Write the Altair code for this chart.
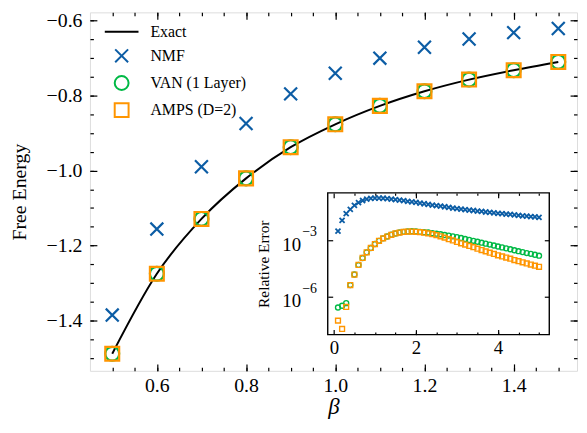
import altair as alt
import pandas as pd

# ---------------- data ----------------
beta_main = [0.5, 0.6, 0.7, 0.8, 0.9, 1.0, 1.1, 1.2, 1.3, 1.4, 1.5]
exact_F = [-1.488, -1.275, -1.129, -1.021, -0.938, -0.877, -0.828, -0.789, -0.758, -0.733, -0.711]
nmf_F = [-1.385, -1.156, -0.990, -0.875, -0.796, -0.741, -0.701, -0.672, -0.650, -0.633, -0.622]
van_F = [-1.488, -1.275, -1.129, -1.021, -0.938, -0.877, -0.828, -0.789, -0.758, -0.733, -0.711]
amps_F = [-1.488, -1.275, -1.129, -1.021, -0.938, -0.877, -0.828, -0.789, -0.758, -0.733, -0.711]

beta_inset = [0.1, 0.2, 0.3, 0.4, 0.5, 0.6, 0.7, 0.8, 0.9, 1.0,
              1.1, 1.2, 1.3, 1.4, 1.5, 1.6, 1.7, 1.8, 1.9, 2.0,
              2.1, 2.2, 2.3, 2.4, 2.5, 2.6, 2.7, 2.8, 2.9, 3.0,
              3.1, 3.2, 3.3, 3.4, 3.5, 3.6, 3.7, 3.8, 3.9, 4.0,
              4.1, 4.2, 4.3, 4.4, 4.5, 4.6, 4.7, 4.8, 4.9, 5.0]
nmf_err = [3.16e-3, 1.17e-2, 2.63e-2, 4.47e-2, 7.24e-2, 0.102, 0.132, 0.155, 0.170, 0.178,
           0.178, 0.174, 0.166, 0.158, 0.148, 0.138, 0.129, 0.120, 0.112, 0.105,
           0.0966, 0.0891, 0.0822, 0.0759, 0.0708, 0.0661, 0.0617, 0.0575, 0.0525, 0.0490,
           0.0457, 0.0437, 0.0407, 0.0389, 0.0363, 0.0347, 0.0324, 0.0309, 0.0288, 0.0275,
           0.0263, 0.0251, 0.0240, 0.0229, 0.0214, 0.0204, 0.0195, 0.0186, 0.0178, 0.0170]
van_err = [2.75e-7, 3.39e-7, 4.68e-7, 4.27e-6, 1.55e-5, 5.01e-5, 1.17e-4, 2.34e-4, 3.98e-4, 6.46e-4,
           9.55e-4, 1.29e-3, 1.62e-3, 2.00e-3, 2.34e-3, 2.66e-3, 2.88e-3, 3.02e-3, 3.09e-3, 3.02e-3,
           2.88e-3, 2.75e-3, 2.63e-3, 2.45e-3, 2.29e-3, 2.14e-3, 1.95e-3, 1.82e-3, 1.66e-3, 1.51e-3,
           1.35e-3, 1.20e-3, 1.07e-3, 9.55e-4, 8.51e-4, 7.59e-4, 6.76e-4, 6.03e-4, 5.37e-4, 4.79e-4,
           4.27e-4, 3.80e-4, 3.39e-4, 3.02e-4, 2.69e-4, 2.40e-4, 2.14e-4, 1.95e-4, 1.74e-4, 1.55e-4]
amps_err = [5.50e-8, 2.00e-8, 2.95e-7, 4.27e-6, 1.55e-5, 5.01e-5, 1.17e-4, 2.34e-4, 3.98e-4, 6.46e-4,
            9.55e-4, 1.29e-3, 1.62e-3, 2.00e-3, 2.34e-3, 2.63e-3, 2.82e-3, 2.95e-3, 2.95e-3, 2.88e-3,
            2.75e-3, 2.57e-3, 2.34e-3, 2.14e-3, 1.91e-3, 1.66e-3, 1.41e-3, 1.17e-3, 1.00e-3, 8.32e-4,
            7.08e-4, 6.03e-4, 5.13e-4, 4.37e-4, 3.63e-4, 3.09e-4, 2.63e-4, 2.24e-4, 1.91e-4, 1.62e-4,
            1.41e-4, 1.23e-4, 1.07e-4, 9.12e-5, 7.94e-5, 6.92e-5, 6.03e-5, 5.25e-5, 4.57e-5, 3.98e-5]

series_names = ["Exact", "NMF", "VAN (1 Layer)", "AMPS (D=2)"]
series_colors = ["#000000", "#0C5DA5", "#00B945", "#FF9500"]

main_x_major = [0.6, 0.8, 1.0, 1.2, 1.4]
main_x_minor = [0.5, 0.55, 0.6, 0.65, 0.7, 0.75, 0.8, 0.85, 0.9, 0.95, 1.0,
                1.05, 1.1, 1.15, 1.2, 1.25, 1.3, 1.35, 1.4, 1.45, 1.5]
main_y_major = [-1.4, -1.2, -1.0, -0.8, -0.6]
main_y_minor = [-1.5, -1.45, -1.4, -1.35, -1.3, -1.25, -1.2, -1.15, -1.1, -1.05, -1.0,
                -0.95, -0.9, -0.85, -0.8, -0.75, -0.7, -0.65, -0.6]
inset_x_major = [0, 2, 4]
inset_x_minor = [0.5, 1.0, 1.5, 2.0, 2.5, 3.0, 3.5, 4.0, 4.5, 5.0]
inset_y_major = [1e-3, 1e-6]
inset_exponents = ["\u22123", "\u22126"]

# ---------------- layout / style ----------------
FONT = "Liberation Serif"
W, H = 491.6, 361.8
X_DOM = [0.45, 1.542]
Y_DOM = [-1.5335, -0.579]
IN_L, IN_R, IN_T, IN_B = 240.0, 463.6, 182.2, 325.2
IN_X_DOM = [-0.15, 5.25]
IN_Y_DOM = [1e-8, 0.3357]

X_PATH = "M-0.93,-0.93L0.93,0.93M-0.93,0.93L0.93,-0.93"
LINE_PATH = "M-2.43,0L2.43,0"
series_shapes = [LINE_PATH, X_PATH, "circle", "square"]

df_exact = pd.DataFrame({"beta": beta_main, "F": exact_F})
df_pts = pd.concat([
    pd.DataFrame({"beta": beta_main, "F": nmf_F, "series": "NMF"}),
    pd.DataFrame({"beta": beta_main, "F": van_F, "series": "VAN (1 Layer)"}),
    pd.DataFrame({"beta": beta_main, "F": amps_F, "series": "AMPS (D=2)"}),
], ignore_index=True)

df_in = pd.DataFrame({"beta": beta_inset, "nmf": nmf_err, "van": van_err, "amps": amps_err})
df_frame = pd.DataFrame({"x0": [IN_X_DOM[0]], "x1": [IN_X_DOM[1]],
                         "y0": [IN_Y_DOM[0]], "y1": [IN_Y_DOM[1]]})
df_exp = pd.DataFrame({"v": inset_y_major, "t": inset_exponents})

xs = alt.Scale(domain=X_DOM, nice=False, zero=False)
ys = alt.Scale(domain=Y_DOM, nice=False, zero=False)
xs_in = alt.Scale(domain=IN_X_DOM, range=[IN_L, IN_R], nice=False, zero=False)
ys_in = alt.Scale(type="log", domain=IN_Y_DOM, range=[IN_B, IN_T], nice=False)


def tick_axis(orient, offset, values, size):
    return alt.Axis(orient=orient, offset=offset, values=values, labels=False,
                    ticks=True, tickSize=size, tickWidth=1.2, tickColor="black",
                    domain=False, grid=False, title=None, zindex=3)


# ---------------- main panel ----------------
exact_line = alt.Chart(df_exact).mark_line(
    color="black", strokeWidth=2, interpolate="monotone"
).encode(
    x=alt.X("beta:Q", scale=xs, axis=alt.Axis(
        orient="bottom", values=main_x_major, format=".1f", ticks=False, tickSize=0,
        domain=False, grid=False, labelPadding=5, labelFontSize=20, labelFont=FONT,
        labelColor="black", title="β", titleFont=FONT, titleFontSize=23,
        titleFontStyle="italic", titleFontWeight="normal", titleColor="black",
        titlePadding=0)),
    y=alt.Y("F:Q", scale=ys, axis=alt.Axis(
        orient="left", values=main_y_major, format=".1f", ticks=False, tickSize=0,
        domain=False, grid=False, labelPadding=8, labelFontSize=20, labelFont=FONT,
        labelColor="black", title="Free Energy", titleFont=FONT, titleFontSize=20,
        titleFontWeight="normal", titleColor="black", titlePadding=17)),
)

legend = alt.Legend(orient="none", legendX=24, legendY=11.5, title=None,
                    labelFont=FONT, labelFontSize=16, labelColor="black",
                    symbolSize=196, symbolStrokeWidth=2, labelOffset=21,
                    rowPadding=5.4, padding=0, symbolOpacity=1)

points = alt.Chart(df_pts).mark_point(filled=False, size=196, strokeWidth=2.2, opacity=1).encode(
    x=alt.X("beta:Q", scale=xs, axis=None),
    y=alt.Y("F:Q", scale=ys, axis=None),
    color=alt.Color("series:N", scale=alt.Scale(domain=series_names, range=series_colors),
                    legend=legend),
    shape=alt.Shape("series:N", scale=alt.Scale(domain=series_names, range=series_shapes),
                    legend=legend),
)


def main_ticks(xorient, yorient, xvals, yvals, size):
    return alt.Chart(df_exact).mark_point(opacity=0).encode(
        x=alt.X("beta:Q", scale=xs, axis=tick_axis(xorient, -H, xvals, size)),
        y=alt.Y("F:Q", scale=ys, axis=tick_axis(yorient, -W, yvals, size)),
    )


main = alt.layer(
    exact_line,
    points,
    main_ticks("top", "right", main_x_major, main_y_major, 7),
    main_ticks("top", "right", main_x_minor, main_y_minor, 3.5),
    main_ticks("bottom", "left", main_x_major, main_y_major, 7),
    main_ticks("bottom", "left", main_x_minor, main_y_minor, 3.5),
).resolve_axis(x="independent", y="independent")

# ---------------- inset ----------------
frame = alt.Chart(df_frame).mark_rect(fill="white", stroke="black", strokeWidth=1.4).encode(
    x=alt.X("x0:Q", scale=xs_in, axis=alt.Axis(
        orient="bottom", offset=IN_B - H, values=inset_x_major, format="d",
        ticks=False, tickSize=0, domain=False, grid=False, labelPadding=4,
        labelFontSize=19, labelFont=FONT, labelColor="black", title=None, zindex=3)),
    x2="x1:Q",
    y=alt.Y("y0:Q", scale=ys_in, axis=alt.Axis(
        orient="left", offset=-IN_L, values=inset_y_major, labelExpr="'10'",
        ticks=False, tickSize=0, domain=False, grid=False, labelPadding=27.4,
        labelOffset=4, labelFontSize=19, labelFont=FONT, labelColor="black",
        title="Relative Error", titleFont=FONT, titleFontSize=15.5,
        titleFontWeight="normal", titleColor="black", titlePadding=10, zindex=3)),
    y2="y1:Q",
)

base_in = alt.Chart(df_in)


def inset_pts(field, shape, color, size, sw):
    return base_in.mark_point(filled=False, shape=shape, size=size, strokeWidth=sw,
                              color=color, opacity=1).encode(
        x=alt.X("beta:Q", scale=xs_in, axis=None),
        y=alt.Y(f"{field}:Q", scale=ys_in, axis=None),
    )


def inset_ticks(xaxis, yaxis):
    return base_in.mark_point(opacity=0).encode(
        x=alt.X("beta:Q", scale=xs_in, axis=xaxis),
        y=alt.Y("nmf:Q", scale=ys_in, axis=yaxis),
    )


exps = alt.Chart(df_exp).mark_text(
    align="left", baseline="middle", dy=-8, fontSize=14, font=FONT, color="black"
).encode(
    x=alt.value(IN_L - 25.7),
    y=alt.Y("v:Q", scale=ys_in, axis=None),
    text="t:N",
)

inset = alt.layer(
    frame,
    inset_pts("nmf", X_PATH, series_colors[1], 30, 1.8),
    inset_pts("van", "circle", series_colors[2], 25, 1.4),
    inset_pts("amps", "square", series_colors[3], 24, 1.4),
    inset_ticks(tick_axis("top", -IN_B, inset_x_major, 5),
                tick_axis("right", IN_L - W, inset_y_major, 5)),
    inset_ticks(tick_axis("top", -IN_B, inset_x_minor, 2.5),
                tick_axis("left", -IN_R, inset_y_major, 5)),
    inset_ticks(tick_axis("bottom", IN_T - H, inset_x_major, 5), None),
    inset_ticks(tick_axis("bottom", IN_T - H, inset_x_minor, 2.5), None),
    exps,
).resolve_axis(x="independent", y="independent")

chart = alt.layer(main, inset).resolve_scale(
    x="independent", y="independent"
).properties(
    width=W, height=H,
    autosize=alt.AutoSizeParams(type="none"),
    padding={"left": 82.7, "top": 2.5, "right": 2, "bottom": 47},
).configure_view(stroke="black", strokeWidth=1.4).configure(font=FONT)

chart.save("out.html", embed_options={"renderer": "svg", "actions": False})
